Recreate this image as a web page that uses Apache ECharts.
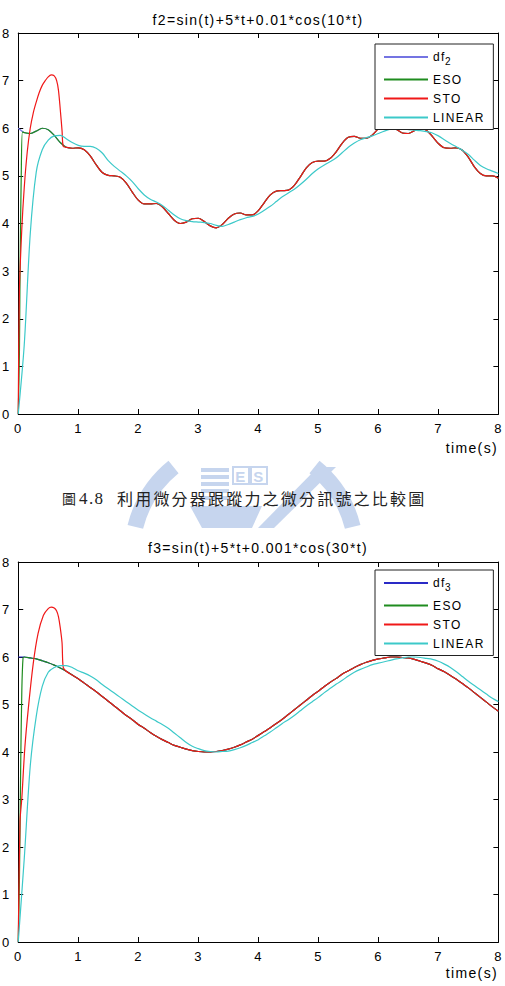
<!DOCTYPE html>
<html>
<head>
<meta charset="utf-8">
<script src="https://cdn.jsdelivr.net/npm/echarts@6/dist/echarts.min.js"></script>
<style>
  html, body { margin: 0; padding: 0; background: #fff; }
  #main { width: 505px; height: 986px; }
  /* matlab export draws its text a little spread out */
  #main text { letter-spacing: 1.4px; }
  #main text[style*="13px"] { letter-spacing: 1px; }
  #main text[style*="14px"] { letter-spacing: 1.35px; }
  #main text[style*="16px"] { letter-spacing: 2.2px; }
</style>
</head>
<body>
<div id="main"></div>
<script>
const FONT = "'Liberation Sans', Arial, sans-serif";
const CJK = "'Noto Sans CJK TC', 'Noto Sans CJK SC', sans-serif";
const SERIF = "'Liberation Serif', serif";

const titles = ["f2=sin(t)+5*t+0.01*cos(10*t)", "f3=sin(t)+5*t+0.001*cos(30*t)"];
const legendNames = [["df2", "ESO", "STO", "LINEAR"], ["df3", "ESO", "STO", "LINEAR"]];
const captionNo = ["圖", "4.8"];
const captionText = "利用微分器跟蹤力之微分訊號之比較圖";
const axisName = "time(s)";

// sample instants of the traces, seconds
const time = Array.from({ length: 81 }, (_, i) => i / 10);

// ---- f2 plot ----
const df2 = [
  6.00, 5.91, 5.89, 5.94, 6.00, 5.97, 5.85, 5.70, 5.60, 5.58,
  5.59, 5.55, 5.42, 5.23, 5.07, 5.01, 5.00, 4.97, 4.85, 4.66,
  4.49, 4.41, 4.41, 4.42, 4.35, 4.21, 4.07, 4.00, 4.03, 4.10,
  4.11, 4.04, 3.95, 3.91, 3.98, 4.11, 4.20, 4.22, 4.18, 4.18,
  4.27, 4.44, 4.60, 4.68, 4.69, 4.70, 4.80, 4.98, 5.17, 5.28,
  5.31, 5.31, 5.37, 5.51, 5.69, 5.81, 5.83, 5.79, 5.79, 5.86,
  5.99, 6.08, 6.07, 5.98, 5.90, 5.89, 5.95, 6.00, 5.96, 5.83,
  5.68, 5.59, 5.58, 5.59, 5.54, 5.39, 5.19, 5.05, 5.00, 5.00,
  4.95
];
const lin2 = [
  0.00, 1.45, 3.78, 5.08, 5.55, 5.75, 5.84, 5.85, 5.78, 5.70,
  5.64, 5.62, 5.62, 5.58, 5.48, 5.32, 5.20, 5.10, 5.00, 4.88,
  4.73, 4.60, 4.51, 4.45, 4.38, 4.28, 4.18, 4.10, 4.06, 4.04,
  4.03, 4.02, 4.00, 3.96, 3.94, 3.98, 4.03, 4.08, 4.12, 4.15,
  4.20, 4.28, 4.36, 4.46, 4.56, 4.64, 4.72, 4.82, 4.93, 5.05,
  5.15, 5.23, 5.30, 5.38, 5.49, 5.60, 5.69, 5.76, 5.80, 5.84,
  5.89, 5.94, 5.98, 6.00, 5.99, 5.97, 5.96, 5.95, 5.93, 5.90,
  5.84, 5.76, 5.68, 5.61, 5.54, 5.45, 5.33, 5.22, 5.15, 5.10,
  5.05
];
// start-up transients; after them ESO and STO sit on df2
const esoHeadTime2 = [0, 0.02, 0.03, 0.05, 0.07];
const esoHead2 = [0, 1.3, 3.0, 5.0, 5.92];
const stoHeadTime2 = [0, 0.02, 0.06, 0.1, 0.15, 0.2, 0.25, 0.3, 0.35, 0.4, 0.45, 0.5, 0.55, 0.6, 0.64, 0.67, 0.7, 0.73, 0.75];
const stoHead2 = [0, 2.6, 3.9, 4.75, 5.5, 6.0, 6.32, 6.55, 6.75, 6.9, 7.0, 7.08, 7.12, 7.1, 7.0, 6.8, 6.4, 5.95, 5.62];

// ---- f3 plot ----
const df3 = [
  6.00, 6.00, 5.98, 5.96, 5.92, 5.88, 5.83, 5.77, 5.70, 5.62,
  5.54, 5.45, 5.36, 5.27, 5.17, 5.07, 4.97, 4.87, 4.77, 4.68,
  4.58, 4.50, 4.41, 4.33, 4.26, 4.20, 4.14, 4.10, 4.06, 4.03,
  4.01, 4.00, 4.00, 4.01, 4.03, 4.06, 4.10, 4.15, 4.21, 4.27,
  4.35, 4.43, 4.51, 4.60, 4.69, 4.79, 4.89, 4.99, 5.09, 5.19,
  5.28, 5.38, 5.47, 5.55, 5.64, 5.71, 5.78, 5.84, 5.89, 5.93,
  5.96, 5.98, 6.00, 6.00, 5.99, 5.98, 5.95, 5.91, 5.87, 5.82,
  5.75, 5.69, 5.61, 5.53, 5.44, 5.35, 5.25, 5.15, 5.05, 4.95,
  4.86
];
const lin3 = [
  0.00, 1.75, 3.70, 4.75, 5.38, 5.68, 5.78, 5.82, 5.82, 5.78,
  5.71, 5.66, 5.60, 5.52, 5.42, 5.33, 5.24, 5.15, 5.06, 4.97,
  4.88, 4.80, 4.72, 4.65, 4.58, 4.50, 4.40, 4.30, 4.20, 4.12,
  4.07, 4.03, 4.01, 4.00, 4.01, 4.02, 4.05, 4.09, 4.14, 4.20,
  4.26, 4.34, 4.42, 4.51, 4.60, 4.68, 4.77, 4.87, 4.97, 5.06,
  5.15, 5.25, 5.34, 5.43, 5.51, 5.60, 5.68, 5.74, 5.79, 5.84,
  5.87, 5.90, 5.93, 5.96, 5.98, 6.00, 6.00, 5.99, 5.97, 5.95,
  5.91, 5.85, 5.78, 5.69, 5.59, 5.49, 5.40, 5.31, 5.22, 5.13,
  5.06
];
const esoHeadTime3 = [0, 0.02, 0.04, 0.06, 0.08];
const esoHead3 = [0, 1.3, 3.6, 5.3, 5.98];
const stoHeadTime3 = [0, 0.03, 0.06, 0.11, 0.17, 0.25, 0.33, 0.42, 0.5, 0.55, 0.6, 0.64, 0.67, 0.7, 0.73, 0.75];
const stoHead3 = [0, 2.54, 3.03, 4.09, 4.94, 5.86, 6.49, 6.88, 7.02, 7.05, 7.03, 6.97, 6.85, 6.62, 6.3, 5.78];

const colors = { df2: "#7474e2", df3: "#2a2ac6", ESO: "#1f8c1f", STO: "#f01818", LINEAR: "#3cc9c9" };

const pairs = (ts, vs) => ts.map((t, i) => [t, vs[i]]);

const grids = [
  { left: 17, right: 5, top: 33, height: 381 },
  { left: 17, right: 5, top: 562, height: 380 },
];

const axisBase = (gi) => ({
  gridIndex: gi,
  type: "value",
  min: 0,
  max: 8,
  interval: 1,
  axisLine: { onZero: false, lineStyle: { color: "#000", width: 1 } },
  axisTick: { inside: true, length: 5, lineStyle: { color: "#000" } },
  splitLine: { show: false },
});

const xAxes = [];
const yAxes = [];
[0, 1].forEach((gi) => {
  xAxes.push({ ...axisBase(gi), position: "bottom",
    axisLabel: { color: "#000", fontSize: 13, fontFamily: FONT, margin: 8 } });
  xAxes.push({ ...axisBase(gi), position: "top", axisLabel: { show: false } });
  yAxes.push({ ...axisBase(gi), position: "left",
    axisLabel: { color: "#000", fontSize: 13, fontFamily: FONT, margin: 8 } });
  yAxes.push({ ...axisBase(gi), position: "right", axisLabel: { show: false } });
});

const line = (name, color, data, gi) => ({
  name,
  type: "line",
  xAxisIndex: gi * 2,
  yAxisIndex: gi * 2,
  data,
  symbol: "none",
  smooth: 0.3,
  lineStyle: { color, width: 1.2 },
  itemStyle: { color },
});

const series = [
  line("df2", colors.df2, pairs(time, df2), 0),
  line("ESO", colors.ESO, pairs(esoHeadTime2, esoHead2).concat(pairs(time, df2).slice(1)), 0),
  line("STO", colors.STO, pairs(stoHeadTime2, stoHead2).concat(pairs(time, df2).slice(8)), 0),
  line("LINEAR", colors.LINEAR, pairs(time, lin2), 0),
  line("df3", colors.df3, pairs(time, df3), 1),
  line("ESO", colors.ESO, pairs(esoHeadTime3, esoHead3).concat(pairs(time, df3).slice(1)), 1),
  line("STO", colors.STO, pairs(stoHeadTime3, stoHead3).concat(pairs(time, df3).slice(8)), 1),
  line("LINEAR", colors.LINEAR, pairs(time, lin3), 1),
];

const legend = (names, top) => ({
  data: names,
  orient: "vertical",
  left: 375,
  top,
  itemWidth: 44,
  itemHeight: 14,
  itemGap: 7,
  padding: [7, 17, 6, 8],
  backgroundColor: "#fff",
  borderColor: "#222",
  borderWidth: 1,
  selectedMode: false,
  itemStyle: { opacity: 0 }, // plain line keys, no marker dot
  formatter: (name) => (name.startsWith("df") ? "df{sub|" + name.slice(2) + "}" : name),
  textStyle: {
    color: "#000",
    fontSize: 12,
    fontFamily: FONT,
    rich: { sub: { fontSize: 10, fontFamily: FONT, padding: [9, 0, 0, 2] } },
  },
});

// faint university emblem behind the caption
const WM = "#c6d5ee";
const deg = (d) => (d * Math.PI) / 180;
const watermark = [
  { type: "arc", shape: { cx: 244, cy: 554, r: 112, startAngle: deg(194), endAngle: deg(231) },
    style: { stroke: WM, lineWidth: 16, fill: null } },
  { type: "arc", shape: { cx: 244, cy: 554, r: 112, startAngle: deg(309), endAngle: deg(346) },
    style: { stroke: WM, lineWidth: 16, fill: null } },
  ...[468, 475, 482, 489, 496].map((y) => ({
    type: "rect", shape: { x: 201, y, width: 28, height: 4 }, style: { fill: WM } })),
  { type: "rect", shape: { x: 233, y: 467, width: 16, height: 17 }, style: { stroke: WM, lineWidth: 2, fill: null } },
  { type: "rect", shape: { x: 251, y: 467, width: 16, height: 17 }, style: { stroke: WM, lineWidth: 2, fill: null } },
  { type: "text", x: 241, y: 476, style: { text: "E", fill: WM, font: "bold 15px " + FONT, align: "center", verticalAlign: "middle" } },
  { type: "text", x: 259, y: 476, style: { text: "S", fill: WM, font: "bold 15px " + FONT, align: "center", verticalAlign: "middle" } },
  { type: "polygon", shape: { points: [[258, 528], [274, 528], [336, 467], [318, 467]] }, style: { fill: WM } },
  { type: "text", x: 292, y: 480, rotation: deg(-40), style: { text: "A", fill: "#fff", font: "bold 15px " + FONT, align: "center", verticalAlign: "middle" } },
  { type: "polygon", shape: { points: [[190, 506], [262, 506], [252, 528], [202, 528]] }, style: { fill: WM } },
];

const texts = [
  { type: "text", x: 258, y: 20, style: { text: titles[0], font: "14px " + FONT, fill: "#000", align: "center", verticalAlign: "middle" } },
  { type: "text", x: 258, y: 548, style: { text: titles[1], font: "14px " + FONT, fill: "#000", align: "center", verticalAlign: "middle" } },
  { type: "text", x: 498, y: 448, style: { text: axisName, font: "14px " + FONT, fill: "#000", align: "right", verticalAlign: "middle" } },
  { type: "text", x: 498, y: 973, style: { text: axisName, font: "14px " + FONT, fill: "#000", align: "right", verticalAlign: "middle" } },
  { type: "text", x: 62, y: 498, style: { text: captionNo[0], font: "14px " + CJK, fill: "#222", align: "left", verticalAlign: "middle" } },
  { type: "text", x: 79, y: 498, style: { text: captionNo[1], font: "17px " + SERIF, fill: "#222", align: "left", verticalAlign: "middle" } },
  { type: "text", x: 117, y: 498, style: { text: captionText, font: "16px " + CJK, fill: "#222", align: "left", verticalAlign: "middle" } },
];

const chart = echarts.init(document.getElementById("main"), null, { renderer: "svg" });
chart.setOption({
  animation: false,
  backgroundColor: "#fff",
  grid: grids,
  xAxis: xAxes,
  yAxis: yAxes,
  legend: [legend(legendNames[0], 44), legend(legendNames[1], 570)],
  graphic: [...watermark, ...texts],
  series,
});
window.addEventListener("resize", () => chart.resize());
</script>
</body>
</html>
